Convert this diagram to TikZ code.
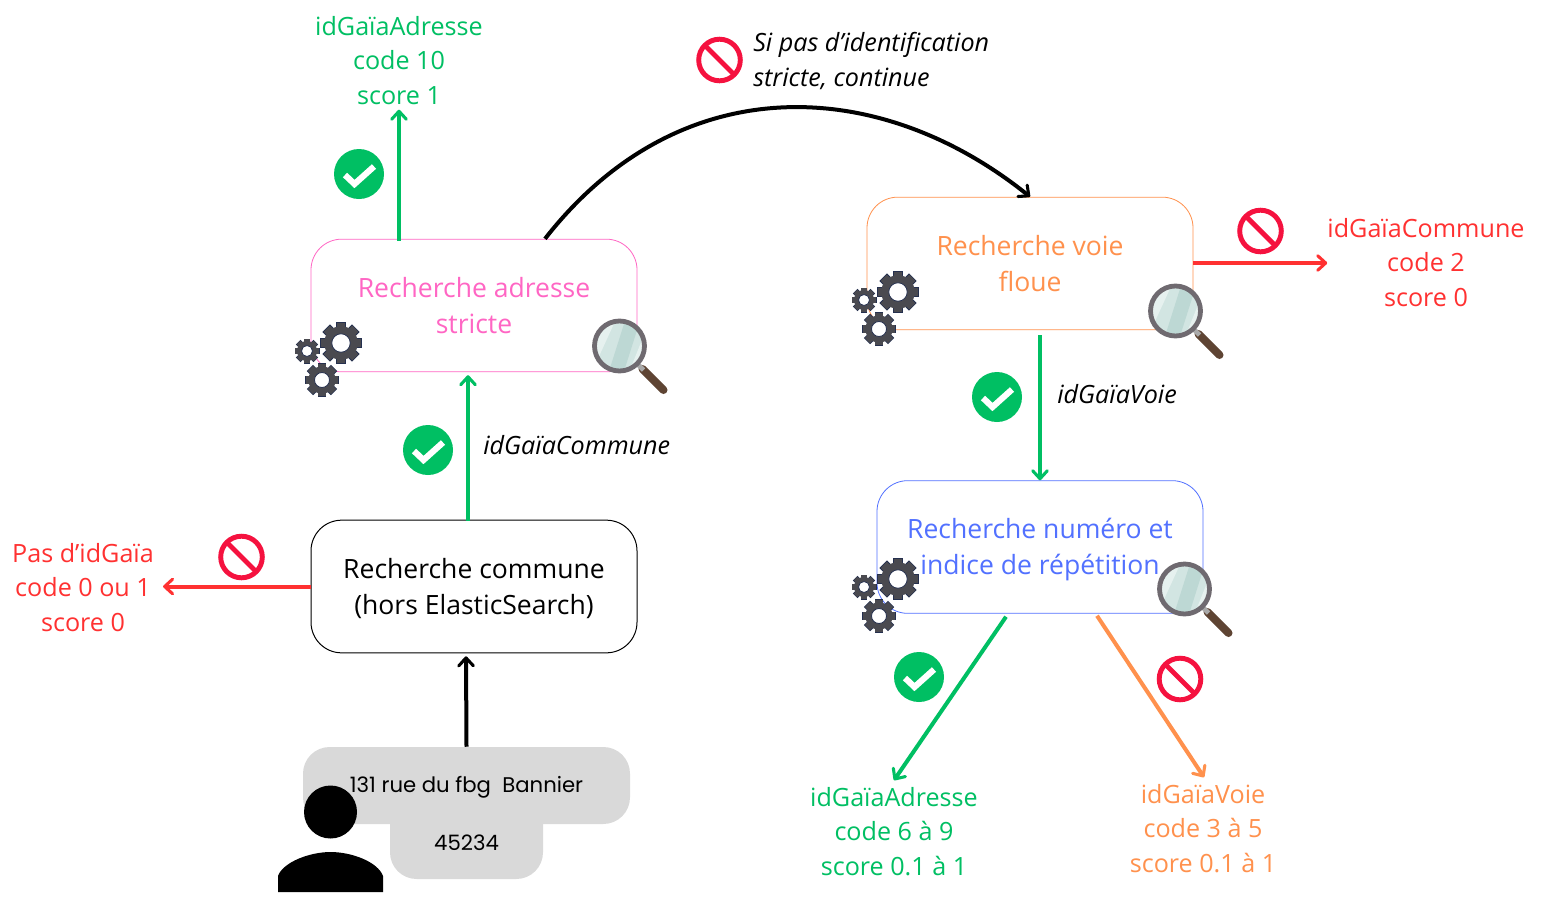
\documentclass[tikz,border=0pt]{standalone}
\usepackage{fontspec}
\setmainfont{Open Sans}
\newfontfamily\popfont{Poppins}
\usetikzlibrary{arrows.meta,calc}
\definecolor{cgreen}{HTML}{00BF63}
\definecolor{cred}{HTML}{FF3131}
\definecolor{corange}{HTML}{FF914D}
\definecolor{cpink}{HTML}{FF66C4}
\definecolor{cblue}{HTML}{5271FF}
\definecolor{cstop}{HTML}{F5123F}
\definecolor{cgrey}{HTML}{D9D9D9}
\definecolor{cgear}{HTML}{4A4A50}
\definecolor{cnavy}{HTML}{25304F}
\definecolor{cring}{HTML}{6F6A70}
\definecolor{clens}{HTML}{D2E5E2}
\definecolor{clensb}{HTML}{BDD8D4}
\definecolor{clensc}{HTML}{E6F1EF}
\definecolor{chandle}{HTML}{5E4433}
\definecolor{ccollar}{HTML}{A9A9A9}
\newcommand{\onegear}[3]{%
  \foreach \a in {0,45,...,315}{
    \draw[cnavy,line width=#3*0.52*0.75pt] (#1,#2)++(\a:#3*0.72) -- ++(\a:#3*0.28);
  }
  \foreach \a in {0,45,...,315}{
    \draw[cgear,line width=#3*0.42*0.75pt] (#1,#2)++(\a:#3*0.72) -- ++(\a:#3*0.24);
  }
  \fill[cgear] (#1,#2) circle[radius=#3*0.80];
  \fill[white,draw=cnavy,line width=0.6pt] (#1,#2) circle[radius=#3*0.44];
}
\newcommand{\dn}[2]{\raisebox{-#1}[\height][\depth]{#2}}
\tikzset{
  x=0.75pt,y=-0.75pt,
  boxnode/.style={draw,rounded corners=23pt,minimum width=244.5pt,minimum height=99.5pt,inner sep=0pt,align=center,
    font=\fontsize{19.9}{27.6}\selectfont,fill=white},
  labelnode/.style={inner sep=0pt,align=center,font=\fontsize{18.85}{25.7}\selectfont},
  notenode/.style={inner sep=0pt,align=left,font=\fontsize{18.85}{26}\selectfont\itshape},
  pillnode/.style={fill=cgrey,rounded corners=20pt,inner sep=0pt,font=\popfont\fontsize{15.9}{20}\selectfont},
  conn/.style={line width=3pt,-{Straight Barb[round,length=6pt,width=11pt,line width=2.3pt]}},
  gearset/.pic={\onegear{0}{0}{21}\onegear{-34}{8}{12.5}\onegear{-19}{37}{17}},
  glass/.pic={
    \draw[chandle,line width=6pt,line cap=round] (23,23) -- (44,44);
    \draw[ccollar,line width=3.6pt] (18,18) -- (24,24);
    \fill[clens] (0,0) circle[radius=24.5];
    \begin{scope}
      \clip (0,0) circle[radius=24.5];
      \fill[clensb] (-12,30) -- (3,30) -- (22,-30) -- (7,-30) -- cycle;
      \fill[clensc] (-32,10) -- (-24,18) -- (-2,-30) -- (-10,-30) -- cycle;
      \fill[clensc] (8,30) -- (14,30) -- (32,-10) -- (28,-20) -- cycle;
    \end{scope}
    \draw[cring,line width=3.6pt] (0,0) circle[radius=25];
  },
  okmark/.pic={
    \fill[cgreen] (0,0) circle[radius=25];
    \draw[white,line width=4.6pt,line cap=butt,line join=miter] (-14,1) -- (-4.5,10) -- (15,-7.5);
  },
  stopmark/.pic={
    \draw[cstop,line width=3.7pt] (0,0) circle[radius=20.8];
    \draw[cstop,line width=3.7pt] (-14.5,-14.5) -- (14.5,14.5);
  }
}
\begin{document}
\begin{tikzpicture}
\useasboundingbox (0,0) rectangle (1548,918);
\fill[white] (0,0) rectangle (1548,918);

% boxes
\node[boxnode,draw=cpink,text=cpink,line width=0.6pt] (strict) at (474,305.5) {Recherche adresse\\stricte};
\node[boxnode,draw=corange,text=corange,line width=0.6pt] (voie) at (1030,263.5) {Recherche voie\\floue};
\node[boxnode,draw=cblue,text=cblue,line width=0.6pt] (numero) at (1040,547) {\dn{2.25pt}{Recherche numéro et}\\\dn{1.5pt}{indice de répétition}};
\node[boxnode,draw=black,text=black,line width=0.75pt] (commune) at (474,586.5) {\dn{1.5pt}{Recherche commune}\\\dn{1.2pt}{(hors ElasticSearch)}};

% input
\node[pillnode,minimum width=114.75pt,minimum height=63pt] (cp) at (466.5,837) {};
\node[pillnode,minimum width=245.25pt,minimum height=57.75pt] (adresse) at (466.5,785.5) {\dn{1.5pt}{131 rue du fbg\ \ Bannier}};
\node[inner sep=0pt,font=\popfont\fontsize{15.9}{20}\selectfont] (cptext) at (466.5,842.5) {45234};
\fill[black] (330.5,812) circle[radius=26.5];
\fill[black] (278,892) -- (278,876) .. controls (283,862) and (310,852) .. (330.5,852)
  .. controls (352,852) and (378,862) .. (383,876) -- (383,892) -- cycle;

% labels
\node[labelnode,text=cgreen] (ada) at (399,60.5) {idGaïaAdresse\\code 10\\score 1};
\node[labelnode,text=cred] (none) at (83,587.5) {Pas d’idGaïa\\code 0 ou 1\\score 0};
\node[labelnode,text=cred] (comm) at (1426,262.5) {idGaïaCommune\\code 2\\score 0};
\node[labelnode,text=cgreen] (adb) at (894,831.5) {idGaïaAdresse\\code 6 à 9\\score 0.1 à 1};
\node[labelnode,text=corange] (vb) at (1203,828.5) {idGaïaVoie\\code 3 à 5\\score 0.1 à 1};
\node[notenode,anchor=west] (note) at (753,61) {Si pas d’identification\\stricte, continue};
\node[notenode,anchor=west] (ncomm) at (483,445) {idGaïaCommune};
\node[notenode,anchor=west] (nvoie) at (1057,394) {idGaïaVoie};

% connectors
\draw[conn,cgreen] ($(strict.north)+(-75,2)$) -- ($(ada.south)+(0,5)$);
\draw[conn,cgreen] ($(commune.north)+(-6,1)$) -- ($(strict.south)+(-6,3)$);
\draw[conn,black] ($(adresse.north)+(0,0)$) -- ($(commune.south)+(-8,3)$);
\draw[conn,cred] (commune.west) -- ($(none.east)+(9,-1)$);
\draw[conn,cred] ($(voie.east)+(0,-0.5)$) -- ($(comm.west)+(0,0.5)$);
\draw[conn,cgreen] ($(voie.south)+(10,5)$) -- (numero.north);
\draw[conn,cgreen] ($(numero.south)+(-34,3)$) -- ($(adb.north)+(0,-7)$);
\draw[conn,corange] ($(numero.south)+(57,2)$) -- ($(vb.north)+(1,-7)$);
\draw[line width=3pt,-{Straight Barb[round,length=6pt,width=11pt,line width=2.3pt]},black]
  ($(strict.north)+(71,0)$) .. controls (680,66) and (880,76) .. (voie.north);

% icons
\pic at (341,343) {gearset};
\pic at (898,292) {gearset};
\pic at (898,579) {gearset};
\pic at (619.5,346) {glass};
\pic at (1175.5,311) {glass};
\pic at (1184.5,589) {glass};
\pic at (359,174) {okmark};
\pic at (428,450) {okmark};
\pic at (997,397) {okmark};
\pic at (919,677) {okmark};
\pic at (719.5,60) {stopmark};
\pic at (1260.5,231) {stopmark};
\pic at (241.5,557) {stopmark};
\pic at (1180,679) {stopmark};
\end{tikzpicture}
\end{document}
